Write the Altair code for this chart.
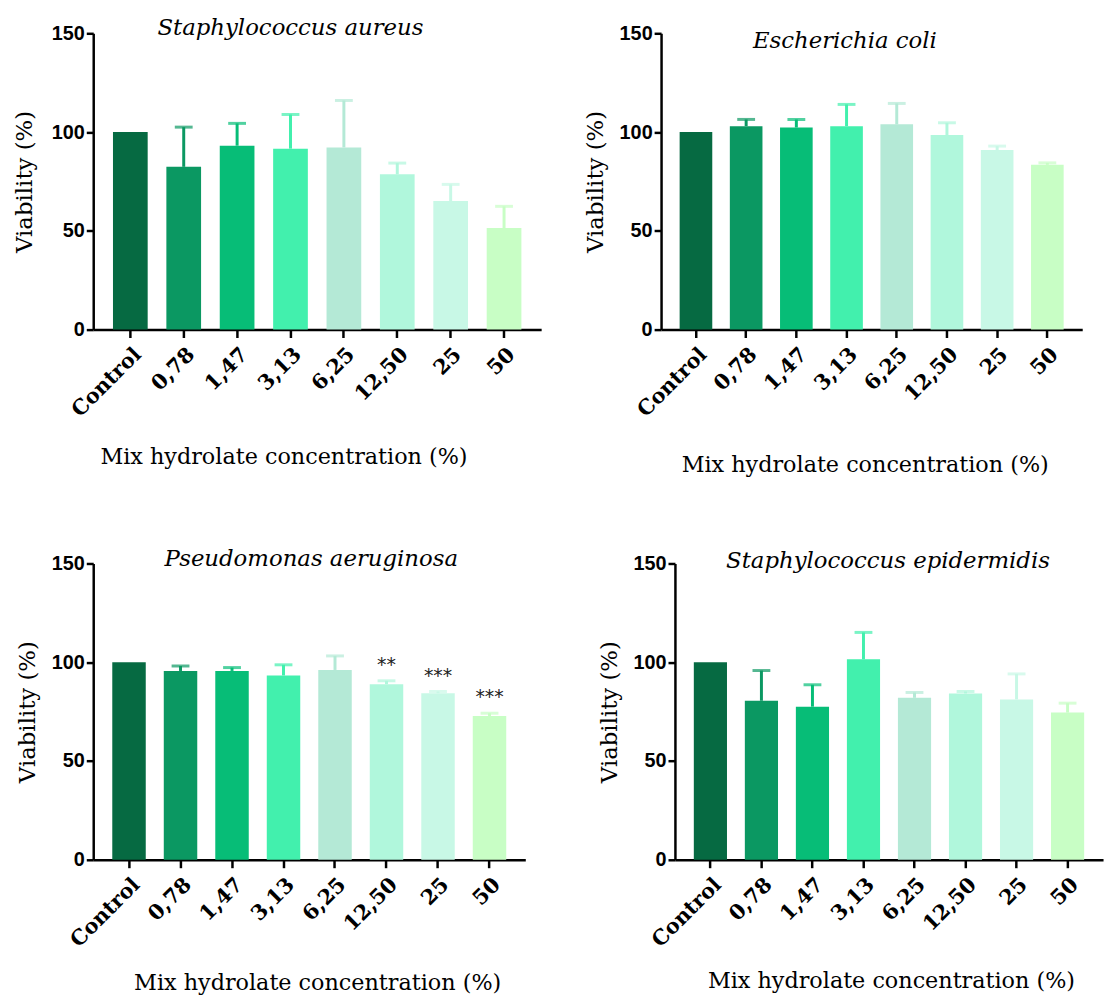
import altair as alt
import pandas as pd

categories = ["Control", "0,78", "1,47", "3,13", "6,25", "12,50", "25", "50"]
bar_colors = ["#066a42", "#0b9862", "#07bd77", "#42f0ad", "#b4e9d6", "#b0f7dc", "#c8f8e6", "#c8fec5"]

sa_mean = [100, 82.4, 93.1, 91.6, 92.2, 78.6, 65.1, 51.4]
sa_sd = [0, 20.1, 11.3, 17.3, 23.8, 5.7, 8.4, 11.0]

ec_mean = [100, 103.0, 102.3, 103.0, 103.9, 98.5, 90.9, 83.4]
ec_sd = [0, 3.4, 4.1, 11.0, 10.6, 6.2, 2.0, 1.0]

pa_mean = [100, 95.6, 95.6, 93.3, 96.1, 88.9, 84.3, 72.8]
pa_sd = [0, 2.5, 1.7, 5.4, 7.1, 1.7, 0.9, 1.4]
pa_sig = ["", "", "", "", "", "**", "***", "***"]

se_mean = [100, 80.5, 77.5, 101.5, 82.0, 84.2, 81.2, 74.5]
se_sd = [0, 15.3, 11.1, 13.6, 2.7, 1.0, 12.9, 4.8]

SERIF = "DejaVu Serif"
SANS = "Liberation Sans"
H = 299


def panel(title, mean, sd, width, title_dx, title_offset, xt_dx, xt_pad, yt_pad, sig=None):
    df = pd.DataFrame({"conc": categories, "mean": mean, "sd": sd})
    df["top"] = df["mean"] + df["sd"]
    df["sig"] = sig if sig is not None else [""] * len(categories)

    x = alt.X(
        "conc:N",
        sort=categories,
        scale=alt.Scale(paddingInner=0.35, paddingOuter=0.37),
        axis=alt.Axis(
            title="Mix hydrolate concentration (%)",
            titleX=width / 2 + xt_dx,
            titlePadding=xt_pad,
            labelAngle=-45,
            labelFont=SERIF,
            labelFontWeight="bold",
            labelFontSize=21,
            labelColor="black",
            labelPadding=6,
            tickSize=8,
            tickWidth=2.5,
            tickColor="black",
            domainWidth=2.5,
            domainColor="black",
            titleFont=SERIF,
            titleFontSize=22.5,
            titleFontWeight="normal",
            titleColor="black",
        ),
    )
    y_axis = alt.Axis(
        title="Viability (%)",
        values=[0, 50, 100, 150],
        grid=False,
        labelFont=SANS,
        labelFontWeight="bold",
        labelFontSize=20,
        labelColor="black",
        labelPadding=2,
        tickSize=7,
        tickWidth=2.5,
        tickColor="black",
        domainWidth=2.5,
        domainColor="black",
        titleFont=SERIF,
        titleFontSize=23,
        titleFontWeight="normal",
        titleColor="black",
        titlePadding=yt_pad,
    )
    yscale = alt.Scale(domain=[0, 150], nice=False)
    color = alt.Color("conc:N", scale=alt.Scale(domain=categories, range=bar_colors), legend=None)

    base = alt.Chart(df)
    bars = base.mark_bar().encode(x=x, y=alt.Y("mean:Q", scale=yscale, axis=y_axis), color=color)
    stems = base.transform_filter("datum.sd > 0").mark_rule(strokeWidth=3).encode(
        x=x, y=alt.Y("mean:Q", scale=yscale), y2="top:Q", color=color
    )
    caps = base.transform_filter("datum.sd > 0").mark_tick(size=18, thickness=3).encode(
        x=x, y=alt.Y("top:Q", scale=yscale), color=color
    )
    layers = [bars, stems, caps]
    if sig is not None:
        stars = base.transform_filter("datum.sig != ''").mark_text(
            font="DejaVu Sans", fontSize=19, baseline="alphabetic", dy=-10, color="#222222"
        ).encode(x=x, y=alt.Y("top:Q", scale=yscale), text="sig:N")
        layers.append(stars)

    return alt.layer(*layers).properties(
        width=width,
        height=H,
        title=alt.TitleParams(
            title,
            font=SERIF,
            fontSize=23,
            fontStyle="italic",
            fontWeight="normal",
            color="black",
            dx=title_dx,
            offset=title_offset,
        ),
    )


p1 = panel("Staphylococcus aureus", sa_mean, sa_sd, 452, -27, -17, -34, 26, 15)
p2 = panel("Escherichia coli", ec_mean, ec_sd, 425, -27, -30, -7, 34, 12)
p3 = panel("Pseudomonas aeruginosa", pa_mean, pa_sd, 436, 2, -18, 8, 21, 12, sig=pa_sig)
p4 = panel("Staphylococcus epidermidis", se_mean, se_sd, 432, -1, -20, 2, 19, 12)

row1 = alt.hconcat(p1, p2, spacing=43)
row2 = alt.hconcat(p3, p4, spacing=73)
chart = alt.vconcat(row1, row2, spacing=72).properties(
    padding={"left": 5, "top": 5, "right": 5, "bottom": 5}
).configure_view(stroke=None).configure_concat(spacing=40)

chart.save("out.html", embed_options={"renderer": "svg", "actions": False})
